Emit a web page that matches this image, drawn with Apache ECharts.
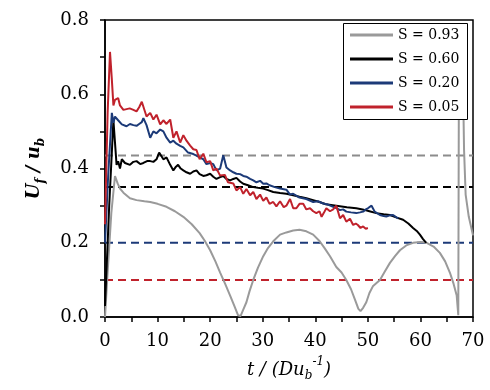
<!DOCTYPE html>
<html>
<head>
<meta charset="utf-8">
<script src="https://cdn.jsdelivr.net/npm/echarts@6/dist/echarts.min.js"></script>
<style>html,body{margin:0;padding:0;background:#fff}#c{width:490px;height:390px}</style>
</head>
<body>
<div id="c"></div>
<script>
// ---- data ----
var seriesNames = ['S = 0.93', 'S = 0.60', 'S = 0.20', 'S = 0.05'];
var seriesColors = ['#9a9a9a', '#000000', '#1c3a78', '#c0222c'];

// visible part of the S = 0.93 curve; the spike near t = 67-68 disappears behind the legend box
var s093 = [[0,0],[0.5,0.12],[1.2,0.28],[1.9,0.38],[2.4,0.36],[2.9,0.345],[3.5,0.335],[4.75,0.32],[6,0.315],[7.5,0.312],[8.6,0.31],[10,0.305],[11.7,0.297],[13.3,0.285],[14.9,0.27],[16.5,0.25],[18,0.226],[19,0.205],[20,0.18],[21,0.15],[21.9,0.12],[22.9,0.088],[23.8,0.058],[24.6,0.03],[25.3,0.005],[25.8,0.003],[26.3,0.02],[26.9,0.04],[27.5,0.07],[28.2,0.10],[29.1,0.133],[30.1,0.164],[31,0.186],[32,0.204],[33.3,0.222],[34.5,0.228],[35.8,0.233],[37,0.235],[38.3,0.231],[39.6,0.222],[40.8,0.205],[41.8,0.185],[42.8,0.164],[44,0.135],[45,0.12],[45.9,0.10],[46.8,0.075],[47.6,0.045],[48.2,0.022],[48.6,0.016],[49.1,0.025],[49.7,0.04],[50.3,0.065],[51,0.084],[52.3,0.1],[53.2,0.122],[54.2,0.146],[55.2,0.165],[56.1,0.18],[57.3,0.193],[58.6,0.2],[60,0.202],[61.2,0.2],[62.5,0.19],[63.7,0.173],[64.7,0.15],[65.6,0.12],[66.3,0.09],[66.9,0.058],[67.2,0.005],[67.3,0.54],[67.7,'-'],[68.2,0.54],[68.3,0.45],[68.6,0.33],[69.2,0.27],[70,0.22]];

var s060 = [[0,0.03],[0.8,0.3],[1.6,0.53],[2.2,0.41],[2.5,0.42],[2.85,0.40],[3.2,0.425],[3.8,0.415],[4.75,0.41],[5.4,0.418],[6,0.42],[6.7,0.412],[7.3,0.415],[8,0.42],[8.6,0.42],[9.2,0.418],[9.8,0.425],[10.3,0.443],[11.1,0.425],[11.7,0.43],[12.4,0.41],[13,0.395],[13.5,0.405],[13.9,0.41],[14.4,0.40],[14.9,0.395],[15.5,0.39],[16.2,0.386],[16.8,0.392],[17.4,0.395],[18,0.385],[18.7,0.38],[19.3,0.382],[20,0.386],[20.6,0.378],[21.2,0.372],[21.9,0.377],[22.5,0.38],[23.1,0.372],[23.8,0.368],[24.4,0.372],[25,0.375],[25.7,0.365],[26.3,0.359],[27.2,0.355],[28.2,0.35],[29.1,0.348],[30.1,0.346],[31,0.342],[32,0.337],[33.3,0.334],[34.5,0.332],[35.8,0.328],[37,0.324],[38.3,0.32],[39.6,0.315],[40.8,0.31],[42,0.304],[43,0.302],[44,0.3],[45,0.298],[46,0.296],[47.8,0.293],[49,0.29],[50.3,0.285],[51.6,0.28],[53,0.277],[54.2,0.275],[55.5,0.268],[56.7,0.262],[57.7,0.252],[58.6,0.24],[59.3,0.232],[59.9,0.222],[60.5,0.21],[61.1,0.2]];

var s020 = [[0,0.2],[0.6,0.38],[1.3,0.55],[1.6,0.523],[1.9,0.54],[2.5,0.53],[3.2,0.519],[4.1,0.514],[4.75,0.52],[5.4,0.517],[6,0.515],[6.5,0.52],[7,0.525],[7.3,0.536],[7.9,0.517],[8.6,0.483],[9.2,0.50],[9.8,0.495],[10.5,0.505],[11.1,0.5],[11.7,0.483],[12.4,0.47],[13,0.475],[13.6,0.467],[14.3,0.461],[14.9,0.457],[15.8,0.443],[16.8,0.439],[17.4,0.435],[18,0.43],[18.7,0.425],[19.3,0.412],[20,0.415],[20.6,0.412],[21.2,0.395],[21.9,0.4],[22.5,0.436],[23.1,0.403],[23.8,0.395],[24.4,0.39],[25,0.386],[25.7,0.385],[26.3,0.38],[26.9,0.378],[27.6,0.372],[28.2,0.368],[28.8,0.363],[29.5,0.367],[30.1,0.359],[30.7,0.36],[31.3,0.355],[32.3,0.35],[33.3,0.346],[34.5,0.343],[35.2,0.33],[35.8,0.332],[37,0.322],[38.3,0.318],[39.6,0.31],[40.5,0.312],[41.5,0.306],[42.4,0.303],[43.4,0.297],[44.1,0.293],[44.7,0.288],[45.3,0.29],[45.9,0.284],[46.8,0.282],[47.8,0.28],[48.5,0.282],[49.1,0.284],[49.6,0.29],[50,0.293],[50.7,0.30],[51.3,0.284],[52.3,0.275],[53,0.272],[53.5,0.271],[54.2,0.274],[54.8,0.275],[55.3,0.27],[55.8,0.266]];

var s005 = [[0,0.25],[0.5,0.55],[0.95,0.714],[1.3,0.64],[1.6,0.57],[1.9,0.585],[2.5,0.59],[2.85,0.57],[3.5,0.558],[4.1,0.56],[4.7,0.562],[5.4,0.558],[6,0.554],[6.5,0.565],[7,0.58],[7.3,0.58],[7.9,0.54],[8.6,0.55],[9.2,0.532],[9.8,0.545],[10.5,0.519],[11.1,0.53],[11.7,0.52],[12.4,0.532],[13,0.483],[13.6,0.50],[14.3,0.47],[14.9,0.49],[15.5,0.475],[16.2,0.462],[16.8,0.452],[17.4,0.45],[18,0.425],[18.7,0.44],[19.3,0.417],[20,0.42],[20.6,0.395],[21.2,0.40],[21.9,0.381],[22.8,0.383],[23.4,0.363],[24.4,0.36],[25,0.341],[25.7,0.35],[26.3,0.332],[26.9,0.345],[27.6,0.328],[28.2,0.337],[28.8,0.318],[29.5,0.33],[30.1,0.313],[30.7,0.322],[31.3,0.305],[32,0.31],[32.6,0.298],[33.3,0.312],[34,0.296],[34.5,0.30],[35.2,0.318],[35.8,0.293],[36.4,0.293],[37,0.305],[37.7,0.305],[38.3,0.29],[39,0.293],[39.6,0.285],[40.2,0.28],[40.8,0.285],[41.2,0.27],[41.6,0.28],[42.1,0.293],[42.8,0.285],[43.4,0.29],[44,0.30],[44.7,0.266],[45.3,0.275],[45.9,0.257],[46.6,0.265],[47.2,0.248],[47.7,0.252],[48.1,0.248],[48.6,0.24],[49.1,0.244],[49.6,0.238],[50,0.24]];

// horizontal dashed reference levels
var refLevels = [0.435, 0.35, 0.2, 0.1];
var refColors = ['#8c8c8c', '#000000', '#1c3a78', '#c0222c'];
var xRange = [0, 70];
var yRange = [0, 0.8];

// ---- chart ----
var chart = echarts.init(document.getElementById('c'), null, {renderer: 'canvas'});
var curves = [s093, s060, s020, s005];
var series = [];
refLevels.forEach(function (v, i) {
  series.push({
    type: 'line', name: 'ref' + i, silent: true, symbol: 'none', z: 1,
    data: [[xRange[0], v], [xRange[1], v]],
    lineStyle: {color: refColors[i], width: 2, type: [8, 5]}
  });
});
curves.forEach(function (d, i) {
  series.push({
    type: 'line', name: seriesNames[i], data: d, symbol: 'none', z: 2,
    color: seriesColors[i], clip: true, connectNulls: false,
    lineStyle: {color: seriesColors[i], width: 2}
  });
});

var nameMain = {fontFamily: 'DejaVu Serif', fontStyle: 'italic', fontSize: 18, lineHeight: 18, padding: [6, 0, 6, 0], color: '#000'};
var nameSub = {fontFamily: 'DejaVu Serif', fontStyle: 'italic', fontSize: 12, lineHeight: 12, padding: [15, 0, 3, 0], color: '#000'};
var nameSup = {fontFamily: 'DejaVu Serif', fontStyle: 'italic', fontSize: 12, lineHeight: 12, padding: [1, 0, 17, 0], color: '#000'};
function bold(o) { var r = Object.assign({}, o); r.fontWeight = 'bold'; return r; }

chart.setOption({
  animation: false,
  backgroundColor: '#fff',
  grid: {left: 105, right: 17, top: 20, bottom: 68, show: true, borderColor: '#000', borderWidth: 1.5, backgroundColor: 'transparent'},
  graphic: [{
    type: 'rect', left: 343, top: 23, zlevel: 1, z: 10, silent: true,
    shape: {width: 124, height: 96},
    style: {fill: '#fff', stroke: '#000', lineWidth: 1}
  }],
  legend: {
    zlevel: 1, z: 20,
    data: seriesNames, orient: 'vertical', left: 343, top: 23,
    backgroundColor: 'transparent', borderWidth: 0,
    padding: [4, 8, 4, 7], itemGap: 8, itemWidth: 43, itemHeight: 3, icon: 'rect',
    textStyle: {fontFamily: 'DejaVu Serif', fontSize: 14, color: '#000', lineHeight: 16}
  },
  xAxis: {
    type: 'value', min: xRange[0], max: xRange[1], interval: 5,
    splitLine: {show: false},
    axisLine: {onZero: false, lineStyle: {color: '#000', width: 1.5}},
    axisTick: {inside: false, length: 5, lineStyle: {color: '#000', width: 1.5}},
    axisLabel: {margin: 15, fontFamily: 'DejaVu Serif', fontSize: 18, color: '#000',
      formatter: function (v) { return v % 10 === 0 ? String(v) : ''; }},
    name: '{m|t / (Du}{sub|b}{sup|-1}{m|)}',
    nameLocation: 'middle', nameGap: 42,
    nameTextStyle: {rich: {m: nameMain, sub: nameSub, sup: nameSup}}
  },
  yAxis: {
    type: 'value', min: yRange[0], max: yRange[1], interval: 0.1,
    splitLine: {show: false},
    axisLine: {onZero: false, lineStyle: {color: '#000', width: 1.5}},
    axisTick: {inside: false, length: 5, lineStyle: {color: '#000', width: 1.5}},
    axisLabel: {margin: 16, fontFamily: 'DejaVu Serif', fontSize: 18, color: '#000',
      formatter: function (v) { return Math.round(v * 10) % 2 === 0 ? v.toFixed(1) : ''; }},
    name: '{m|U}{sub|f}{m| / u}{sub|b}',
    nameLocation: 'middle', nameGap: 60,
    nameTextStyle: {rich: {m: bold(nameMain), sub: bold(nameSub)}}
  },
  series: series
});
</script>
</body>
</html>
